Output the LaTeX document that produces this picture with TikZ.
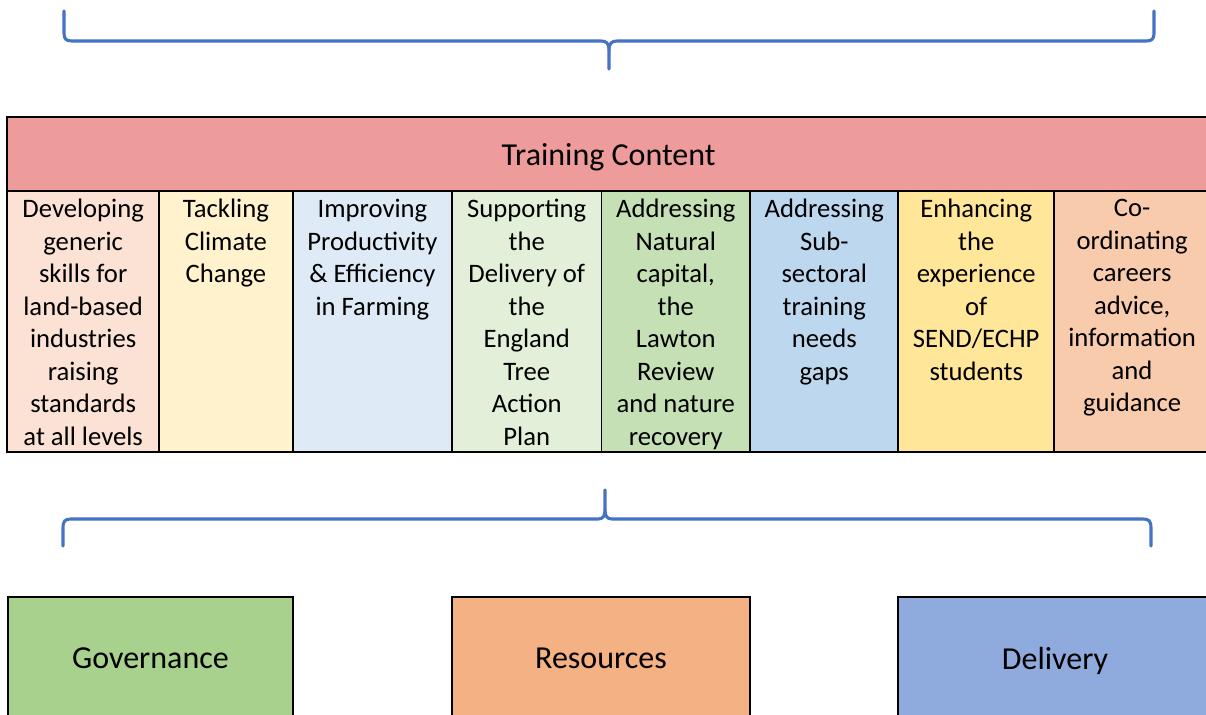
\documentclass[tikz,border=0pt]{standalone}
\usepackage{fontspec}
\setmainfont{Carlito}
\usetikzlibrary{positioning}

\definecolor{headred}{RGB}{238,155,155}
\definecolor{colpink}{RGB}{251,226,213}
\definecolor{colcream}{RGB}{255,242,204}
\definecolor{colsky}{RGB}{222,235,247}
\definecolor{colmint}{RGB}{226,240,217}
\definecolor{colgreen}{RGB}{197,224,180}
\definecolor{colblue}{RGB}{189,215,238}
\definecolor{colyellow}{RGB}{255,230,153}
\definecolor{colpeach}{RGB}{248,203,173}
\definecolor{govgreen}{RGB}{169,209,142}
\definecolor{resorange}{RGB}{244,177,131}
\definecolor{delblue}{RGB}{143,170,220}
\definecolor{braceblue}{RGB}{68,114,196}

\begin{document}
\begin{tikzpicture}[%
    x=0.75pt,
    y=-0.75pt,
    node distance=0pt,
    box/.style={%
      rectangle,
      draw,
      line width=1.4pt,
      outer sep=0pt,
      inner sep=0pt
    },
    column/.style={%
      box,
      minimum width=#1,
      minimum height=196pt
    },
    coltext/.style={%
      align=center,
      inner sep=0pt,
      font=\fontsize{20}{24.4}\selectfont
    },
    pillar/.style={%
      box,
      minimum width=#1,
      minimum height=91.5pt,
      text depth=0pt,
      font=\fontsize{24}{29}\selectfont
    },
    brace/.style={%
      draw=braceblue,
      line width=2.3pt,
      line cap=round
    }
  ]
    \useasboundingbox (0,0) rectangle (1206,714);
    \clip (0,0) rectangle (1206,714);

    \draw[brace] (64,11) -- (64,33) .. controls (64,39) and (66,41) .. (72,41)
      -- (601,41) .. controls (606,41) and (609,43) .. (609,50) -- (609,69);
    \draw[brace] (609,50) .. controls (609,43) and (612,41) .. (617,41)
      -- (1146,41) .. controls (1152,41) and (1154,39) .. (1154,33) -- (1154,11);

    \node[box, fill=headred, minimum width=902pt, minimum height=55.3pt,
      text depth=0pt, anchor=north west, font=\fontsize{24}{29}\selectfont]
      (head) at (7.3,117.3) {Training Content};

    \node[column=113.8pt, fill=colpink, anchor=north west] (c1) at (7.3,191) {};
    \node[column=100.3pt, fill=colcream] (c2) [right=of c1] {};
    \node[column=119.5pt, fill=colsky] (c3) [right=of c2] {};
    \node[column=112pt, fill=colmint] (c4) [right=of c3] {};
    \node[column=111.5pt, fill=colgreen] (c5) [right=of c4] {};
    \node[column=111.2pt, fill=colblue] (c6) [right=of c5] {};
    \node[column=116.8pt, fill=colyellow] (c7) [right=of c6] {};
    \node[column=117pt, fill=colpeach] (c8) [right=of c7] {};

    \node[coltext] (t1) [below=6pt of c1.north]
      {Developing\\generic\\skills for\\land-based\\industries\\raising\\standards\\at all levels};
    \node[coltext] (t2) [below=6pt of c2.north] {Tackling\\Climate\\Change};
    \node[coltext] (t3) [below=6pt of c3.north]
      {Improving\\Productivity\\\& Efficiency\\in Farming};
    \node[coltext] (t4) [below=6pt of c4.north]
      {Supporting\\the\\Delivery of\\the\\England\\Tree\\Action\\Plan};
    \node[coltext] (t5) [below=6pt of c5.north]
      {Addressing\\Natural\\capital,\\the\\Lawton\\Review\\and nature\\recovery};
    \node[coltext] (t6) [below=6pt of c6.north]
      {Addressing\\Sub-\\sectoral\\training\\needs\\gaps};
    \node[coltext] (t7) [below=6pt of c7.north]
      {Enhancing\\the\\experience\\of\\SEND/ECHP\\students};
    \node[coltext] (t8) [below=6pt of c8.north]
      {Co-\\ordinating\\careers\\advice,\\information\\and\\guidance};

    \draw[brace] (63,546) -- (63,528) .. controls (63,521) and (65,519) .. (71,519)
      -- (598,519) .. controls (603,519) and (605,516) .. (605,510) -- (605,490);
    \draw[brace] (605,510) .. controls (605,516) and (607,519) .. (612,519)
      -- (1143,519) .. controls (1149,519) and (1151,521) .. (1151,528) -- (1151,546);

    \node[pillar=213.75pt, fill=govgreen, anchor=north west] (gov) at (8,597) {Governance};
    \node[pillar=223.5pt, fill=resorange, anchor=north west] (res) at (452,597) {Resources};
    \node[pillar=235.5pt, fill=delblue, anchor=north west] (del) at (898,597) {Delivery};
\end{tikzpicture}
\end{document}
